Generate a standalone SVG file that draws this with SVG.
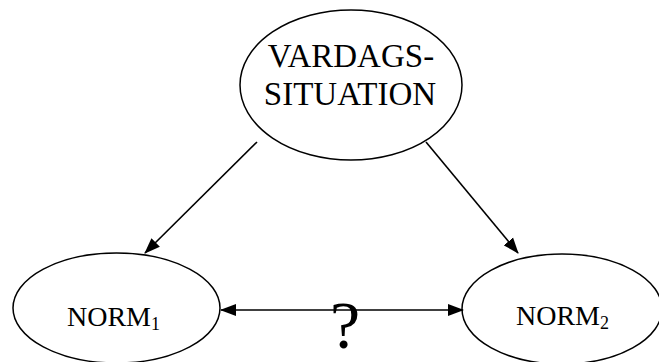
<svg xmlns="http://www.w3.org/2000/svg" width="659" height="362" viewBox="0 0 659 362">
<style>
.node{fill:#fff;stroke:#000;stroke-width:1.5}
.lbl{fill:#000}
.edge{stroke:#000;stroke-width:1.6;fill:none}
</style>
<defs>
<marker id="ah" markerUnits="userSpaceOnUse" markerWidth="16" markerHeight="13" refX="15" refY="6" orient="auto-start-reverse" viewBox="0 0 16 12">
<path d="M0,0 L16,6 L0,12 z" fill="#000"/>
</marker>
</defs>
<rect width="659" height="362" fill="#fff"/>
<g id="vardags">
<ellipse class="node" cx="351" cy="85" rx="111" ry="75"/>
<text class="lbl" font-family="Liberation Serif, Times New Roman, DejaVu Serif, serif" x="351" y="67" font-size="33" text-anchor="middle">VARDAGS-</text>
<text class="lbl" font-family="Liberation Serif, Times New Roman, DejaVu Serif, serif" x="350" y="105" font-size="33" text-anchor="middle">SITUATION</text>
</g>
<g id="norm1">
<ellipse class="node" cx="116.5" cy="308" rx="103.5" ry="55"/>
<text class="lbl" font-family="Liberation Serif, Times New Roman, DejaVu Serif, serif" x="67" y="326" font-size="28">NORM<tspan font-size="18" dy="4">1</tspan></text>
</g>
<g id="norm2">
<ellipse class="node" cx="562" cy="309" rx="100" ry="55"/>
<text class="lbl" font-family="Liberation Serif, Times New Roman, DejaVu Serif, serif" x="516" y="325" font-size="28">NORM<tspan font-size="18" dy="4">2</tspan></text>
</g>
<g id="connectors">
<line class="edge" x1="257" y1="142" x2="145" y2="253" marker-end="url(#ah)"/>
<line class="edge" x1="426" y1="142" x2="518" y2="253" marker-end="url(#ah)"/>
<line class="edge" x1="221" y1="310" x2="463" y2="310" marker-start="url(#ah)" marker-end="url(#ah)"/>
<text class="lbl" font-family="Liberation Serif, Times New Roman, DejaVu Serif, serif" x="345" y="348" font-size="68" text-anchor="middle">?</text>
</g>
</svg>
